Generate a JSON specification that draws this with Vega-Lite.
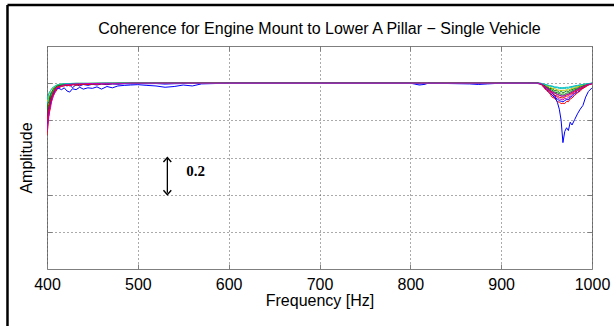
{
  "$schema": "https://vega.github.io/schema/vega-lite/v6.json",
  "width": 545,
  "height": 223,
  "autosize": "none",
  "padding": {"left": 47, "top": 46, "right": 22, "bottom": 57},
  "background": "white",
  "config": {
    "view": {"stroke": "#7f7f7f", "strokeWidth": 1},
    "font": "Liberation Sans"
  },
  "title": {
    "text": "Coherence for Engine Mount to Lower A Pillar − Single Vehicle",
    "fontSize": 16,
    "fontWeight": "normal",
    "font": "Liberation Sans",
    "color": "black",
    "offset": -33,
    "anchor": "middle",
    "frame": "group"
  },
  "data": {
    "values": [
      {"f":400,"s01":0.80,"s02":0.84,"s03":0.72,"s04":0.88,"s05":0.76,"s06":0.90,"s07":0.82,"s08":0.78,"s09":0.86,"s10":0.79,"s11":0.91,"s12":0.74},
      {"f":401,"s01":0.83,"s02":0.875,"s03":0.765,"s04":0.91,"s05":0.80,"s06":0.915,"s07":0.86,"s08":0.815,"s09":0.89,"s10":0.83,"s11":0.93,"s12":0.79},
      {"f":402,"s01":0.875,"s02":0.885,"s03":0.82,"s04":0.925,"s05":0.83,"s06":0.94,"s07":0.87,"s08":0.86,"s09":0.90,"s10":0.865,"s11":0.945,"s12":0.835},
      {"f":403,"s01":0.885,"s02":0.92,"s03":0.85,"s04":0.93,"s05":0.875,"s06":0.95,"s07":0.895,"s08":0.87,"s09":0.925,"s10":0.89,"s11":0.955,"s12":0.86},
      {"f":404,"s01":0.915,"s02":0.93,"s03":0.87,"s04":0.95,"s05":0.89,"s06":0.96,"s07":0.925,"s08":0.895,"s09":0.94,"s10":0.91,"s11":0.96,"s12":0.885},
      {"f":405,"s01":0.92,"s02":0.945,"s03":0.905,"s04":0.95,"s05":0.915,"s06":0.965,"s07":0.93,"s08":0.925,"s09":0.95,"s10":0.92,"s11":0.97,"s12":0.90},
      {"f":407,"s01":0.955,"s02":0.96,"s03":0.935,"s04":0.965,"s05":0.945,"s06":0.975,"s07":0.95,"s08":0.94,"s09":0.97,"s10":0.95,"s11":0.98,"s12":0.93},
      {"f":409,"s01":0.96,"s02":0.975,"s03":0.95,"s04":0.98,"s05":0.965,"s06":0.985,"s07":0.97,"s08":0.96,"s09":0.975,"s10":0.97,"s11":0.985,"s12":0.955},
      {"f":411,"s01":0.975,"s02":0.985,"s03":0.965,"s04":0.99,"s05":0.97,"s06":0.99,"s07":0.975,"s08":0.97,"s09":0.985,"s10":0.98,"s11":0.99,"s12":0.975},
      {"f":413,"s01":0.98,"s02":0.99,"s03":0.975,"s04":0.99,"s05":0.98,"s06":0.992,"s07":0.985,"s08":0.972,"s09":0.988,"s10":0.982,"s11":0.993,"s12":0.978},
      {"f":416,"s01":0.988,"s02":0.99,"s03":0.982,"s04":0.995,"s05":0.985,"s06":0.995,"s07":0.99,"s08":0.965,"s09":0.99,"s10":0.985,"s11":0.996,"s12":0.985},
      {"f":419,"s01":0.99,"s02":0.993,"s03":0.985,"s04":0.996,"s05":0.99,"s06":0.996,"s07":0.988,"s08":0.975,"s09":0.992,"s10":0.99,"s11":0.997,"s12":0.99},
      {"f":422,"s01":0.985,"s02":0.995,"s03":0.99,"s04":0.997,"s05":0.992,"s06":0.997,"s07":0.99,"s08":0.958,"s09":0.994,"s10":0.99,"s11":0.998,"s12":0.993},
      {"f":425,"s01":0.99,"s02":0.996,"s03":0.992,"s04":0.998,"s05":0.985,"s06":0.998,"s07":0.993,"s08":0.952,"s09":0.995,"s10":0.988,"s11":0.998,"s12":0.994},
      {"f":428,"s01":0.975,"s02":0.997,"s03":0.994,"s04":0.998,"s05":0.99,"s06":0.998,"s07":0.995,"s08":0.97,"s09":0.996,"s10":0.992,"s11":0.999,"s12":0.995},
      {"f":432,"s01":0.992,"s02":0.997,"s03":0.988,"s04":0.999,"s05":0.994,"s06":0.999,"s07":0.99,"s08":0.965,"s09":0.997,"s10":0.995,"s11":0.999,"s12":0.996},
      {"f":436,"s01":0.985,"s02":0.998,"s03":0.995,"s04":0.999,"s05":0.99,"s06":0.999,"s07":0.996,"s08":0.978,"s09":0.997,"s10":0.99,"s11":0.999,"s12":0.997},
      {"f":440,"s01":0.993,"s02":0.998,"s03":0.996,"s04":0.999,"s05":0.995,"s06":0.999,"s07":0.994,"s08":0.968,"s09":0.998,"s10":0.996,"s11":0.999,"s12":0.997},
      {"f":445,"s01":0.988,"s02":0.998,"s03":0.994,"s04":0.999,"s05":0.996,"s06":0.999,"s07":0.997,"s08":0.975,"s09":0.998,"s10":0.993,"s11":0.999,"s12":0.998},
      {"f":450,"s01":0.994,"s02":0.999,"s03":0.997,"s04":0.999,"s05":0.993,"s06":0.999,"s07":0.995,"s08":0.972,"s09":0.998,"s10":0.997,"s11":0.999,"s12":0.998},
      {"f":455,"s01":0.99,"s02":0.999,"s03":0.996,"s04":0.999,"s05":0.997,"s06":0.999,"s07":0.998,"s08":0.98,"s09":0.999,"s10":0.995,"s11":0.999,"s12":0.998},
      {"f":460,"s01":0.995,"s02":0.999,"s03":0.998,"s04":0.999,"s05":0.996,"s06":0.999,"s07":0.997,"s08":0.968,"s09":0.999,"s10":0.997,"s11":1.0,"s12":0.999},
      {"f":466,"s01":0.992,"s02":0.999,"s03":0.997,"s04":1.0,"s05":0.998,"s06":0.999,"s07":0.998,"s08":0.982,"s09":0.999,"s10":0.996,"s11":1.0,"s12":0.999},
      {"f":472,"s01":0.996,"s02":0.999,"s03":0.998,"s04":1.0,"s05":0.997,"s06":1.0,"s07":0.997,"s08":0.975,"s09":0.999,"s10":0.998,"s11":1.0,"s12":0.999},
      {"f":478,"s01":0.994,"s02":1.0,"s03":0.998,"s04":1.0,"s05":0.998,"s06":1.0,"s07":0.999,"s08":0.985,"s09":0.999,"s10":0.997,"s11":1.0,"s12":0.999},
      {"f":485,"s01":0.997,"s02":1.0,"s03":0.999,"s04":1.0,"s05":0.998,"s06":1.0,"s07":0.998,"s08":0.988,"s09":1.0,"s10":0.998,"s11":1.0,"s12":0.999},
      {"f":492,"s01":0.996,"s02":1.0,"s03":0.998,"s04":1.0,"s05":0.999,"s06":1.0,"s07":0.999,"s08":0.99,"s09":1.0,"s10":0.999,"s11":1.0,"s12":1.0},
      {"f":500,"s01":0.998,"s02":1.0,"s03":0.999,"s04":1.0,"s05":0.999,"s06":1.0,"s07":0.999,"s08":0.992,"s09":1.0,"s10":0.999,"s11":1.0,"s12":1.0},
      {"f":510,"s01":0.997,"s02":1.0,"s03":0.999,"s04":1.0,"s05":0.999,"s06":1.0,"s07":0.999,"s08":0.988,"s09":1.0,"s10":0.999,"s11":1.0,"s12":1.0},
      {"f":520,"s01":0.998,"s02":1.0,"s03":0.999,"s04":1.0,"s05":1.0,"s06":1.0,"s07":1.0,"s08":0.985,"s09":1.0,"s10":0.999,"s11":1.0,"s12":1.0},
      {"f":530,"s01":0.995,"s02":1.0,"s03":1.0,"s04":1.0,"s05":0.999,"s06":1.0,"s07":0.999,"s08":0.978,"s09":1.0,"s10":1.0,"s11":1.0,"s12":1.0},
      {"f":540,"s01":0.997,"s02":1.0,"s03":0.999,"s04":1.0,"s05":1.0,"s06":1.0,"s07":1.0,"s08":0.982,"s09":1.0,"s10":0.999,"s11":1.0,"s12":1.0},
      {"f":550,"s01":0.998,"s02":1.0,"s03":1.0,"s04":1.0,"s05":1.0,"s06":1.0,"s07":1.0,"s08":0.99,"s09":1.0,"s10":1.0,"s11":1.0,"s12":1.0},
      {"f":560,"s01":0.999,"s02":1.0,"s03":1.0,"s04":1.0,"s05":1.0,"s06":1.0,"s07":1.0,"s08":0.985,"s09":1.0,"s10":1.0,"s11":1.0,"s12":1.0},
      {"f":570,"s01":0.999,"s02":1.0,"s03":1.0,"s04":1.0,"s05":1.0,"s06":1.0,"s07":1.0,"s08":0.996,"s09":1.0,"s10":1.0,"s11":1.0,"s12":1.0},
      {"f":585,"s01":1.0,"s02":1.0,"s03":1.0,"s04":1.0,"s05":1.0,"s06":1.0,"s07":1.0,"s08":0.998,"s09":1.0,"s10":1.0,"s11":1.0,"s12":1.0},
      {"f":600,"s01":1.0,"s02":1.0,"s03":1.0,"s04":1.0,"s05":1.0,"s06":1.0,"s07":1.0,"s08":1.0,"s09":1.0,"s10":1.0,"s11":1.0,"s12":1.0},
      {"f":650,"s01":0.999,"s02":1.0,"s03":1.0,"s04":1.0,"s05":1.0,"s06":1.0,"s07":1.0,"s08":1.0,"s09":1.0,"s10":1.0,"s11":1.0,"s12":1.0},
      {"f":700,"s01":1.0,"s02":1.0,"s03":1.0,"s04":1.0,"s05":1.0,"s06":1.0,"s07":1.0,"s08":1.0,"s09":1.0,"s10":1.0,"s11":1.0,"s12":1.0},
      {"f":790,"s01":1.0,"s02":1.0,"s03":1.0,"s04":1.0,"s05":1.0,"s06":1.0,"s07":1.0,"s08":1.0,"s09":1.0,"s10":1.0,"s11":1.0,"s12":1.0},
      {"f":800,"s01":0.998,"s02":1.0,"s03":1.0,"s04":1.0,"s05":1.0,"s06":1.0,"s07":1.0,"s08":1.0,"s09":1.0,"s10":1.0,"s11":1.0,"s12":1.0},
      {"f":805,"s01":1.0,"s02":1.0,"s03":1.0,"s04":1.0,"s05":1.0,"s06":1.0,"s07":1.0,"s08":0.995,"s09":1.0,"s10":1.0,"s11":1.0,"s12":1.0},
      {"f":810,"s01":0.996,"s02":1.0,"s03":1.0,"s04":1.0,"s05":1.0,"s06":1.0,"s07":1.0,"s08":0.99,"s09":1.0,"s10":1.0,"s11":1.0,"s12":1.0},
      {"f":815,"s01":1.0,"s02":1.0,"s03":1.0,"s04":1.0,"s05":1.0,"s06":1.0,"s07":0.996,"s08":0.993,"s09":1.0,"s10":1.0,"s11":1.0,"s12":1.0},
      {"f":820,"s01":1.0,"s02":1.0,"s03":1.0,"s04":1.0,"s05":1.0,"s06":1.0,"s07":1.0,"s08":1.0,"s09":1.0,"s10":1.0,"s11":1.0,"s12":1.0},
      {"f":865,"s01":1.0,"s02":1.0,"s03":1.0,"s04":1.0,"s05":1.0,"s06":1.0,"s07":1.0,"s08":0.996,"s09":1.0,"s10":1.0,"s11":1.0,"s12":1.0},
      {"f":875,"s01":0.997,"s02":1.0,"s03":1.0,"s04":1.0,"s05":1.0,"s06":1.0,"s07":1.0,"s08":0.993,"s09":1.0,"s10":1.0,"s11":1.0,"s12":1.0},
      {"f":885,"s01":1.0,"s02":1.0,"s03":1.0,"s04":1.0,"s05":1.0,"s06":1.0,"s07":1.0,"s08":0.996,"s09":1.0,"s10":1.0,"s11":1.0,"s12":1.0},
      {"f":900,"s01":1.0,"s02":1.0,"s03":1.0,"s04":1.0,"s05":1.0,"s06":1.0,"s07":1.0,"s08":1.0,"s09":1.0,"s10":1.0,"s11":1.0,"s12":1.0},
      {"f":930,"s01":1.0,"s02":1.0,"s03":0.999,"s04":1.0,"s05":1.0,"s06":1.0,"s07":1.0,"s08":1.0,"s09":1.0,"s10":1.0,"s11":1.0,"s12":1.0},
      {"f":940,"s01":0.998,"s02":1.0,"s03":0.999,"s04":1.0,"s05":1.0,"s06":1.0,"s07":1.0,"s08":1.0,"s09":1.0,"s10":1.0,"s11":1.0,"s12":1.0},
      {"f":944,"s01":0.995,"s02":0.998,"s03":0.994,"s04":0.999,"s05":0.996,"s06":0.998,"s07":0.997,"s08":0.996,"s09":0.997,"s10":0.996,"s11":0.999,"s12":0.997},
      {"f":947,"s01":0.98,"s02":0.99,"s03":0.976,"s04":0.994,"s05":0.982,"s06":0.992,"s07":0.986,"s08":0.99,"s09":0.988,"s10":0.984,"s11":0.995,"s12":0.985},
      {"f":950,"s01":0.966,"s02":0.985,"s03":0.96,"s04":0.99,"s05":0.97,"s06":0.986,"s07":0.977,"s08":0.975,"s09":0.98,"s10":0.974,"s11":0.992,"s12":0.975},
      {"f":953,"s01":0.948,"s02":0.972,"s03":0.948,"s04":0.985,"s05":0.955,"s06":0.98,"s07":0.962,"s08":0.965,"s09":0.968,"s10":0.958,"s11":0.987,"s12":0.966},
      {"f":956,"s01":0.937,"s02":0.97,"s03":0.925,"s04":0.982,"s05":0.945,"s06":0.973,"s07":0.955,"s08":0.95,"s09":0.962,"s10":0.95,"s11":0.985,"s12":0.952},
      {"f":959,"s01":0.92,"s02":0.96,"s03":0.918,"s04":0.976,"s05":0.93,"s06":0.97,"s07":0.945,"s08":0.93,"s09":0.952,"s10":0.935,"s11":0.98,"s12":0.948},
      {"f":962,"s01":0.915,"s02":0.958,"s03":0.90,"s04":0.975,"s05":0.924,"s06":0.964,"s07":0.94,"s08":0.895,"s09":0.948,"s10":0.93,"s11":0.979,"s12":0.938},
      {"f":964,"s01":0.905,"s02":0.95,"s03":0.898,"s04":0.972,"s05":0.915,"s06":0.962,"s07":0.935,"s08":0.86,"s09":0.944,"s10":0.924,"s11":0.976,"s12":0.936},
      {"f":966,"s01":0.903,"s02":0.955,"s03":0.89,"s04":0.97,"s05":0.913,"s06":0.96,"s07":0.932,"s08":0.80,"s09":0.94,"s10":0.922,"s11":0.976,"s12":0.93},
      {"f":968,"s01":0.90,"s02":0.95,"s03":0.892,"s04":0.973,"s05":0.91,"s06":0.962,"s07":0.93,"s08":0.68,"s09":0.942,"s10":0.92,"s11":0.975,"s12":0.932},
      {"f":970,"s01":0.906,"s02":0.952,"s03":0.89,"s04":0.971,"s05":0.918,"s06":0.961,"s07":0.935,"s08":0.74,"s09":0.94,"s10":0.925,"s11":0.977,"s12":0.93},
      {"f":972,"s01":0.912,"s02":0.958,"s03":0.902,"s04":0.974,"s05":0.915,"s06":0.965,"s07":0.937,"s08":0.76,"s09":0.946,"s10":0.93,"s11":0.978,"s12":0.94},
      {"f":974,"s01":0.91,"s02":0.955,"s03":0.90,"s04":0.972,"s05":0.925,"s06":0.963,"s07":0.942,"s08":0.745,"s09":0.948,"s10":0.932,"s11":0.978,"s12":0.938},
      {"f":976,"s01":0.925,"s02":0.962,"s03":0.915,"s04":0.977,"s05":0.928,"s06":0.968,"s07":0.945,"s08":0.79,"s09":0.952,"s10":0.94,"s11":0.981,"s12":0.946},
      {"f":978,"s01":0.928,"s02":0.965,"s03":0.92,"s04":0.978,"s05":0.94,"s06":0.972,"s07":0.952,"s08":0.775,"s09":0.958,"s10":0.944,"s11":0.982,"s12":0.95},
      {"f":981,"s01":0.945,"s02":0.972,"s03":0.935,"s04":0.983,"s05":0.946,"s06":0.976,"s07":0.958,"s08":0.805,"s09":0.965,"s10":0.953,"s11":0.986,"s12":0.96},
      {"f":984,"s01":0.95,"s02":0.975,"s03":0.948,"s04":0.985,"s05":0.96,"s06":0.982,"s07":0.968,"s08":0.835,"s09":0.97,"s10":0.962,"s11":0.988,"s12":0.966},
      {"f":987,"s01":0.966,"s02":0.984,"s03":0.958,"s04":0.99,"s05":0.965,"s06":0.985,"s07":0.972,"s08":0.86,"s09":0.978,"s10":0.97,"s11":0.991,"s12":0.975},
      {"f":990,"s01":0.972,"s02":0.985,"s03":0.972,"s04":0.991,"s05":0.978,"s06":0.99,"s07":0.982,"s08":0.88,"s09":0.984,"s10":0.978,"s11":0.993,"s12":0.98},
      {"f":993,"s01":0.985,"s02":0.992,"s03":0.98,"s04":0.995,"s05":0.984,"s06":0.993,"s07":0.986,"s08":0.925,"s09":0.99,"s10":0.986,"s11":0.996,"s12":0.988},
      {"f":996,"s01":0.99,"s02":0.995,"s03":0.99,"s04":0.997,"s05":0.993,"s06":0.997,"s07":0.994,"s08":0.955,"s09":0.995,"s10":0.992,"s11":0.998,"s12":0.993},
      {"f":1000,"s01":0.998,"s02":0.999,"s03":0.997,"s04":1.0,"s05":0.998,"s06":0.999,"s07":0.998,"s08":0.975,"s09":0.999,"s10":0.998,"s11":1.0,"s12":0.998}
    ]
  },
  "layer": [
    {
      "transform": [{"fold": ["s01","s02","s03","s04","s05","s06","s07","s08","s09","s10","s11","s12"], "as": ["series", "v"]}],
      "mark": {"type": "line", "strokeWidth": 1, "clip": true},
      "encoding": {
        "x": {
          "field": "f", "type": "quantitative",
          "scale": {"domain": [400, 1000], "nice": false, "zero": false},
          "axis": {
            "orient": "bottom", "values": [400,500,600,700,800,900,1000], "format": "d",
            "labelFontSize": 16, "labelFont": "Liberation Sans", "labelColor": "black", "labelPadding": 12, "labelFlush": false,
            "tickSize": -5, "tickColor": "#7f7f7f", "domain": false,
            "grid": true, "gridColor": "#555555", "gridDash": [1, 3], "gridWidth": 1,
            "title": "Frequency [Hz]", "titleFontSize": 16, "titleFontWeight": "normal", "titleFont": "Liberation Sans", "titleColor": "black", "titlePadding": 0
          }
        },
        "y": {
          "field": "v", "type": "quantitative",
          "scale": {"domain": [0, 1.2], "nice": false, "zero": false},
          "axis": {
            "orient": "left", "values": [0.2,0.4,0.6,0.8,1.0], "labels": false,
            "tickSize": -5, "tickColor": "#7f7f7f", "domain": false,
            "grid": true, "gridColor": "#555555", "gridDash": [1, 3], "gridWidth": 1,
            "title": "Amplitude", "titleFontSize": 16, "titleFontWeight": "normal", "titleFont": "Liberation Sans", "titleColor": "black", "titlePadding": 12
          }
        },
        "color": {
          "field": "series", "type": "nominal", "legend": null,
          "scale": {
            "domain": ["s01","s02","s03","s04","s05","s06","s07","s08","s09","s10","s11","s12"],
            "range": ["#0000ff","#008000","#ff0000","#00bfbf","#bf00bf","#bfbf00","#404040","#0000ff","#008000","#ff0000","#00bfbf","#bf00bf"]
          }
        }
      }
    },
    {
      "mark": {"type": "point", "opacity": 0},
      "encoding": {
        "x": {
          "field": "f", "type": "quantitative",
          "scale": {"domain": [400, 1000], "nice": false, "zero": false},
          "axis": {"orient": "top", "values": [500,600,700,800,900], "labels": false, "tickSize": -5, "tickColor": "#7f7f7f", "domain": false, "grid": false, "title": null}
        },
        "y": {
          "field": "s01", "type": "quantitative",
          "scale": {"domain": [0, 1.2], "nice": false, "zero": false},
          "axis": {"orient": "right", "values": [0.2,0.4,0.6,0.8,1.0], "labels": false, "tickSize": -5, "tickColor": "#7f7f7f", "domain": false, "grid": false, "title": null}
        }
      }
    },
    {
      "data": {"values": [{}]},
      "layer": [
        {
          "mark": {"type": "rule", "color": "black", "strokeWidth": 1.3},
          "encoding": {
            "x": {"datum": 532.5, "type": "quantitative", "axis": null},
            "y": {"datum": 0.41, "type": "quantitative", "axis": null},
            "y2": {"datum": 0.595}
          }
        },
        {
          "mark": {"type": "point", "shape": "M-1.3,1.5L0,0L1.3,1.5", "filled": false, "stroke": "black", "strokeWidth": 1.4, "size": 36, "opacity": 1},
          "encoding": {
            "x": {"datum": 532.5, "type": "quantitative", "axis": null},
            "y": {"datum": 0.6, "type": "quantitative", "axis": null}
          }
        },
        {
          "mark": {"type": "point", "shape": "M-1.3,-1.5L0,0L1.3,-1.5", "filled": false, "stroke": "black", "strokeWidth": 1.4, "size": 36, "opacity": 1},
          "encoding": {
            "x": {"datum": 532.5, "type": "quantitative", "axis": null},
            "y": {"datum": 0.4, "type": "quantitative", "axis": null}
          }
        },
        {
          "mark": {"type": "text", "text": "0.2", "font": "Liberation Serif", "fontWeight": "bold", "fontSize": 15, "color": "black", "align": "center", "baseline": "middle"},
          "encoding": {
            "x": {"datum": 563.5, "type": "quantitative", "axis": null},
            "y": {"datum": 0.529, "type": "quantitative", "axis": null}
          }
        },
        {
          "mark": {"type": "rule", "color": "black", "strokeWidth": 2.5},
          "encoding": {
            "x": {"datum": 356.5, "type": "quantitative", "axis": null},
            "y": {"datum": 1.42, "type": "quantitative", "axis": null},
            "y2": {"datum": -0.4}
          }
        },
        {
          "mark": {"type": "rule", "color": "black", "strokeWidth": 2.5},
          "encoding": {
            "x": {"datum": 356.5, "type": "quantitative", "axis": null},
            "x2": {"datum": 1030},
            "y": {"datum": 1.42, "type": "quantitative", "axis": null}
          }
        }
      ]
    }
  ],
  "resolve": {"axis": {"x": "independent", "y": "independent"}}
}
